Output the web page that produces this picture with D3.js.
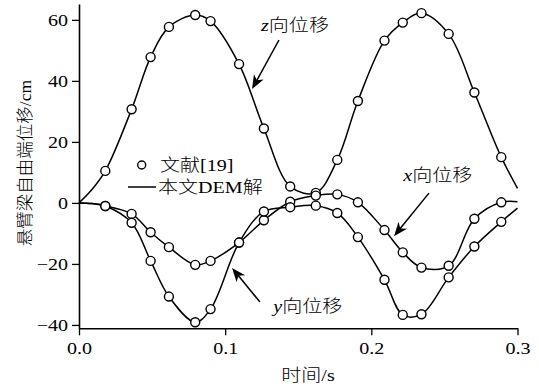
<!DOCTYPE html>
<html>
<head>
<meta charset="utf-8">
<script src="https://cdn.jsdelivr.net/npm/d3@7"></script>
<style>
  body { margin: 0; background: #fff; }
  text { font-family: "Liberation Serif", "Noto Sans CJK SC", serif; font-weight: 300; fill: #000; }
</style>
</head>
<body>
<script>
// reference points (文献[19])
var refT = [0.018, 0.036, 0.049, 0.0615, 0.0795, 0.09, 0.1095, 0.1265, 0.1445, 0.162, 0.1767, 0.1908, 0.209, 0.2215, 0.2343, 0.2529, 0.2705, 0.2889];
var refZ = [10.5, 30.7, 47.8, 57.7, 61.6, 59.6, 45.5, 24.4, 5.4, 3.3, 14.1, 33.4, 53.2, 59.1, 62.2, 55.4, 36.2, 15.0];
var refX = [-1.0, -3.6, -9.6, -14.5, -20.3, -19.0, -13.0, -5.7, 0.4, 2.4, 2.8, 0.2, -8.9, -16.2, -21.2, -20.6, -5.2, 0.2];
var refY = [-1.0, -6.5, -19.0, -30.7, -39.1, -34.8, -13.0, -2.8, -1.4, -0.9, -3.3, -11.2, -25.2, -36.7, -36.5, -24.4, -14.3, -6.2];

// DEM solution curves (本文DEM解)
var demT = [0, 0.0087, 0.018, 0.036, 0.049, 0.0615, 0.0795, 0.09, 0.1095, 0.1265, 0.1445, 0.162, 0.1767, 0.1908, 0.209, 0.2215, 0.2343, 0.2529, 0.2705, 0.2889, 0.3];
var demZ = [0, 4.3, 10.5, 30.7, 47.8, 57.7, 61.6, 59.6, 45.5, 24.4, 5.4, 3.3, 14.1, 33.4, 53.2, 59.1, 62.2, 55.4, 36.2, 15.0, 4.8];
var demX = [0, -0.2, -1.0, -3.6, -9.6, -14.5, -20.3, -19.0, -13.0, -5.7, 0.4, 2.4, 2.8, 0.2, -8.9, -16.2, -21.2, -20.6, -5.2, 0.2, 0.4];
var demY = [0, -0.2, -1.0, -6.5, -19.0, -30.7, -39.1, -34.8, -13.0, -2.8, -1.4, -0.9, -3.3, -11.2, -25.2, -36.7, -36.5, -24.4, -14.3, -6.2, -1.7];

var xMajor = [0, 0.1, 0.2, 0.3], xMinor = [0.05, 0.15, 0.25];
var yMajor = [-40, -20, 0, 20, 40, 60], yMinor = [-30, -10, 10, 30, 50];

// annotations: [label var, text t, text v, arrow from t, v, arrow tip t, v]
var notes = [
  ["z", 0.1245, 58.3, 0.1368, 53.4, 0.1184, 37.3],
  ["x", 0.2219, 9.1, 0.2394, 3.2, 0.2155, -10.9],
  ["y", 0.1329, -33.8, 0.1238, -32.5, 0.1047, -21.3]
];

var width = 539, height = 389;
var K = 1.18; // glyph widening to match reference

var svg = d3.select("body").append("svg")
  .attr("width", width)
  .attr("height", height);

var x = d3.scaleLinear().domain([0, 0.3]).range([79, 517.5]);
var y = d3.scaleLinear().domain([-41.1, 65.2]).range([328.3, 4]);

function stretch(sel, k) {
  sel.each(function () {
    var w = this.getComputedTextLength();
    d3.select(this).attr("textLength", w * k).attr("lengthAdjust", "spacingAndGlyphs");
  });
}

// axes
var gx = svg.append("g").attr("transform", "translate(0," + y.range()[0] + ")");
gx.call(d3.axisBottom(x).tickValues(xMinor).tickSize(4).tickSizeOuter(0).tickFormat(""));
gx.call(d3.axisBottom(x).tickValues(xMajor).tickSize(7).tickPadding(7).tickSizeOuter(0).tickFormat(d3.format(".1f")));

var gy = svg.append("g").attr("transform", "translate(" + x.range()[0] + ",0)");
gy.call(d3.axisLeft(y).tickValues(yMinor).tickSize(4).tickSizeOuter(0).tickFormat(""));
gy.call(d3.axisLeft(y).tickValues(yMajor).tickSize(7).tickPadding(4).tickSizeOuter(0));

svg.selectAll(".domain").attr("stroke-width", 1.6);
svg.selectAll(".tick line").attr("stroke-width", 1.3);
svg.selectAll(".tick text")
  .style("font-family", "'Liberation Serif', serif")
  .style("font-size", "17px");
stretch(svg.selectAll(".tick text"), K);

// curves
var line = d3.line()
  .x(function (d) { return x(d[0]); })
  .y(function (d) { return y(d[1]); })
  .curve(d3.curveCatmullRom.alpha(0.5));

[demZ, demX, demY].forEach(function (vals) {
  svg.append("path")
    .datum(demT.map(function (t, i) { return [t, vals[i]]; }))
    .attr("fill", "none")
    .attr("stroke", "#000")
    .attr("stroke-width", 1.5)
    .attr("d", line);
});

[refZ, refX, refY].forEach(function (vals) {
  svg.append("g").selectAll("circle")
    .data(refT.map(function (t, i) { return [t, vals[i]]; }))
    .enter().append("circle")
    .attr("cx", function (d) { return x(d[0]); })
    .attr("cy", function (d) { return y(d[1]); })
    .attr("r", 4.5)
    .attr("fill", "#fff")
    .attr("stroke", "#000")
    .attr("stroke-width", 1.4);
});

// annotations with arrows
notes.forEach(function (n) {
  var t = svg.append("text")
    .attr("x", x(n[1]))
    .attr("y", y(n[2]))
    .attr("dy", "0.35em")
    .style("font-size", "17px");
  t.append("tspan").style("font-style", "italic").text(n[0]);
  t.append("tspan").text("向位移");
  stretch(t, K);

  var x1 = x(n[3]), y1 = y(n[4]), x2 = x(n[5]), y2 = y(n[6]);
  var dx = x2 - x1, dy = y2 - y1, len = Math.sqrt(dx * dx + dy * dy);
  var ux = dx / len, uy = dy / len, nx = -uy, ny = ux;
  var L = 14, W = 5.5, notch = 4;
  svg.append("line")
    .attr("x1", x1).attr("y1", y1)
    .attr("x2", x2 - ux * 6).attr("y2", y2 - uy * 6)
    .attr("stroke", "#000")
    .attr("stroke-width", 1.5);
  svg.append("path")
    .attr("d", "M" + x2 + "," + y2 +
      "L" + (x2 - L * ux + W * nx) + "," + (y2 - L * uy + W * ny) +
      "L" + (x2 - (L - notch) * ux) + "," + (y2 - (L - notch) * uy) +
      "L" + (x2 - L * ux - W * nx) + "," + (y2 - L * uy - W * ny) + "Z")
    .attr("fill", "#000");
});

// legend
var legend = svg.append("g");
legend.append("circle")
  .attr("cx", 141.7).attr("cy", 165)
  .attr("r", 4)
  .attr("fill", "#fff").attr("stroke", "#000").attr("stroke-width", 1.4);
legend.append("text")
  .attr("x", 160).attr("y", 165).attr("dy", "0.35em")
  .style("font-size", "17px")
  .text("文献[19]");
legend.append("line")
  .attr("x1", 128).attr("x2", 156)
  .attr("y1", 187).attr("y2", 187)
  .attr("stroke", "#000").attr("stroke-width", 1.5);
legend.append("text")
  .attr("x", 158).attr("y", 187).attr("dy", "0.35em")
  .style("font-size", "17px")
  .text("本文DEM解");
stretch(legend.selectAll("text"), K);

// axis titles
var xt = svg.append("text")
  .attr("x", 308).attr("y", 375).attr("dy", "0.35em")
  .attr("text-anchor", "middle")
  .style("font-size", "17px")
  .text("时间/s");
stretch(xt, K);

svg.append("text")
  .attr("transform", "translate(25,163) rotate(-90)")
  .attr("dy", "0.35em")
  .attr("text-anchor", "middle")
  .style("font-size", "17.5px")
  .text("悬臂梁自由端位移/cm");
</script>
</body>
</html>
